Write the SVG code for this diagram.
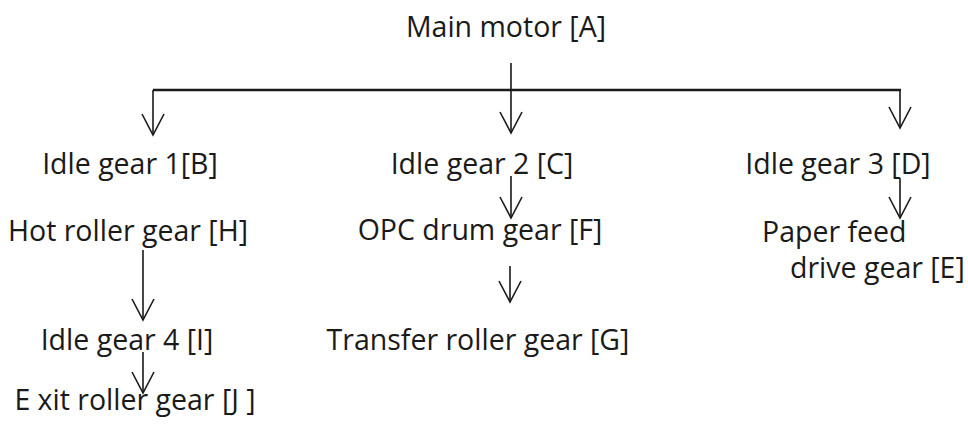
<svg xmlns="http://www.w3.org/2000/svg" width="968" height="425" viewBox="0 0 968 425">
<style>
text{font-family:"Open Sans","Noto Sans",sans-serif;font-size:28.5px;fill:#1a1a1a}
.c{stroke:#1a1a1a;stroke-width:1.6;fill:none}
.h{stroke-width:2.6}
</style>
<defs>
<marker id="ah" markerUnits="userSpaceOnUse" viewBox="-22 -12 24 24" markerWidth="24" markerHeight="24" refX="0" refY="0" orient="auto" overflow="visible">
<path d="M-21,-11 L0,0 L-21,11" fill="none" stroke="#1a1a1a" stroke-width="1.6"/>
</marker>
</defs>
<rect width="968" height="425" fill="#fff"/>
<g id="connectors">
<path class="c" d="M511,63 V133" marker-end="url(#ah)"/>
<path class="c h" d="M153,90 H901"/>
<path class="c" d="M153,90 V135" marker-end="url(#ah)"/>
<path class="c" d="M900,90 V128" marker-end="url(#ah)"/>
<path class="c" d="M511,176 V218" marker-end="url(#ah)"/>
<path class="c" d="M900,178 V218" marker-end="url(#ah)"/>
<path class="c" d="M510,266 V302" marker-end="url(#ah)"/>
<path class="c" d="M143,250 V320" marker-end="url(#ah)"/>
<path class="c" d="M143,352 V393" marker-end="url(#ah)"/>
</g>
<g id="nodeA"><text x="506" y="37" text-anchor="middle">Main motor [A]</text></g>
<g id="nodeB"><text x="130" y="174" text-anchor="middle">Idle gear 1[B]</text></g>
<g id="nodeC"><text x="482" y="174" text-anchor="middle">Idle gear 2 [C]</text></g>
<g id="nodeD"><text x="838" y="174" text-anchor="middle">Idle gear 3 [D]</text></g>
<g id="nodeH"><text x="128" y="241" text-anchor="middle">Hot roller gear [H]</text></g>
<g id="nodeF"><text x="480" y="240" text-anchor="middle">OPC drum gear [F]</text></g>
<g id="nodeE"><text x="762" y="242">Paper feed</text><text x="790" y="278">drive gear [E]</text></g>
<g id="nodeI"><text x="127" y="350" text-anchor="middle">Idle gear 4 [I]</text></g>
<g id="nodeG"><text x="478" y="350" text-anchor="middle">Transfer roller gear [G]</text></g>
<g id="nodeJ"><text x="135" y="410" text-anchor="middle">E xit roller gear [J ]</text></g>
</svg>
